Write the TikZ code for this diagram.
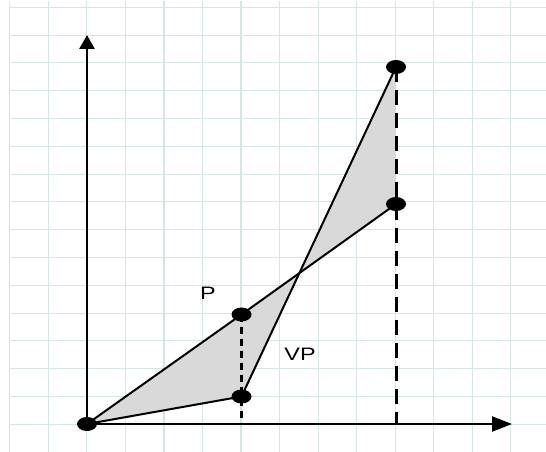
\documentclass[tikz,border=0pt]{standalone}
\usepackage{fontspec}
\setmainfont{Liberation Sans}
\usetikzlibrary{shapes.geometric,arrows.meta}
\definecolor{gridc}{RGB}{214,230,230}
\definecolor{shadegray}{RGB}{217,217,217}
\begin{document}
\begin{tikzpicture}[x=1pt,y=-1pt,
  dot/.style={ellipse,fill=black,minimum width=20pt,minimum height=14pt,inner sep=0pt},
  curve/.style={line width=2pt,black},
  haxis/.style={line width=2.2pt,black},
  vaxis/.style={line width=2.8pt,black},
  longdash/.style={line width=3pt,dash pattern=on 15pt off 8pt},
  shortdash/.style={line width=3pt,dash pattern=on 7pt off 5pt},
  lbl/.style={font=\fontsize{18}{20}\selectfont,inner sep=0pt,xscale=1.3}]
\useasboundingbox (0,0) rectangle (546,452);
\fill[white] (0,0) rectangle (546,452);
% grid
\foreach \k in {0,...,14} {
  \draw[gridc,line width=1.2pt] ({9.7+38.55*\k},1) -- ({9.7+38.55*\k},452);
}
\foreach \k in {0,...,16} {
  \draw[gridc,line width=1pt] (9,{7.3+27.8*\k}) -- (546,{7.3+27.8*\k});
}
% points
\coordinate (O) at (87,424);
\coordinate (A) at (241.5,396.5);
\coordinate (B) at (241.5,314.5);
\coordinate (C) at (396,67);
\coordinate (D) at (396,204);
\coordinate (Ax) at (241.5,424);
\coordinate (Cx) at (396,424);
\coordinate (Xend) at (512,424);
\coordinate (Yend) at (87,35);
% fill
\fill[shadegray] (O) -- (B) -- (D) -- (C) -- (A) -- cycle;
% dashed verticals
\draw[shortdash] (B) -- (Ax);
\draw[longdash] (C) -- (Cx);
% curves
\draw[curve] (O) -- (B) -- (D);
\draw[curve] (O) -- (A) -- (C);
% axes
\draw[haxis,-{Triangle[length=20pt,width=15pt]}] (O) -- (Xend);
\draw[vaxis,-{Triangle[length=14pt,width=15pt]}] (O) -- (Yend);
% dots
\node[dot] (nO) at (O) {};
\node[dot] (nA) at (A) {};
\node[dot] (nB) at (B) {};
\node[dot] (nC) at (C) {};
\node[dot] (nD) at (D) {};
% labels
\node[lbl] (P) at (208,293) {P};
\node[lbl] (VP) at (300,354) {VP};
\end{tikzpicture}
\end{document}
